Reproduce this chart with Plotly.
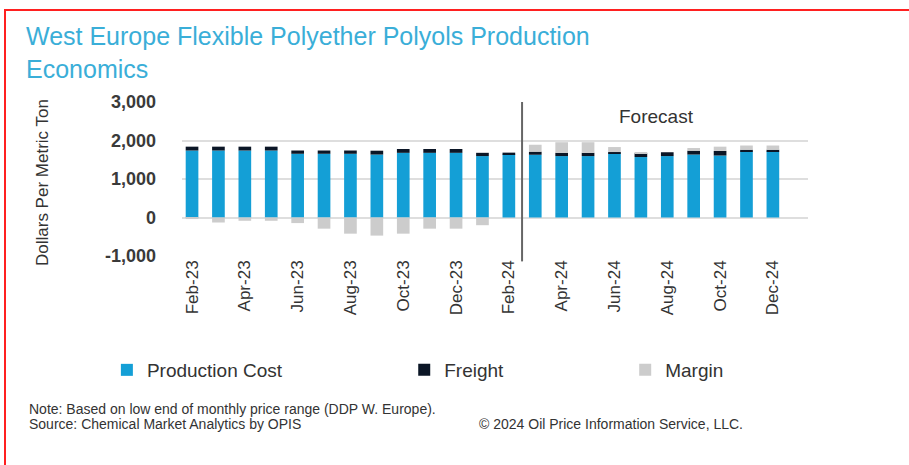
import plotly.graph_objects as go

# months on the category axis
months = ['Feb-23', 'Mar-23', 'Apr-23', 'May-23', 'Jun-23', 'Jul-23', 'Aug-23', 'Sep-23',
          'Oct-23', 'Nov-23', 'Dec-23', 'Jan-24', 'Feb-24', 'Mar-24', 'Apr-24', 'May-24',
          'Jun-24', 'Jul-24', 'Aug-24', 'Sep-24', 'Oct-24', 'Nov-24', 'Dec-24']
tick_months = months[::2]
y_ticks = [-1000, 0, 1000, 2000, 3000]
y_labels = ['-1,000', '0', '1,000', '2,000', '3,000']

# $/metric ton
production_cost = [1740, 1740, 1740, 1740, 1655, 1655, 1655, 1635, 1680, 1680, 1680, 1595,
                   1640, 1630, 1595, 1595, 1655, 1570, 1595, 1635, 1610, 1715, 1715]
freight = [100, 100, 100, 100, 85, 85, 85, 100, 100, 100, 100, 85,
           45, 80, 85, 85, 45, 100, 100, 100, 120, 45, 45]
margin = [-40, -130, -85, -85, -145, -290, -420, -470, -420, -290, -290, -200,
          0, 180, 275, 275, 130, 25, 0, 70, 110, 110, 110]

FONT = 'Liberation Sans, Arial, sans-serif'
TXT = '#333333'

# plot area in pixels: x 182..808, y 102..256
def px(x):
    return (x - 182) / 626

def py(y):
    return (256 - y) / 154


fig = go.Figure()
fig.add_trace(go.Bar(x=months, y=production_cost, name='Production Cost',
                     marker_color='#149fd6', marker_line_width=0, legend='legend'))
fig.add_trace(go.Bar(x=months, y=freight, name='Freight',
                     marker_color='#0b1626', marker_line_width=0, legend='legend2'))
fig.add_trace(go.Bar(x=months, y=margin, name='Margin',
                     marker_color='#cccccc', marker_line_width=0, legend='legend3'))

leg = dict(orientation='h', yanchor='middle', xanchor='left', y=py(370),
           font=dict(family=FONT, size=19, color=TXT), bgcolor='rgba(0,0,0,0)')

fig.update_layout(
    width=909, height=465, autosize=False,
    paper_bgcolor='white', plot_bgcolor='white',
    barmode='relative', bargap=0.52,
    margin=dict(l=182, r=101, t=102, b=209),
    font=dict(family=FONT, color=TXT),
    title=dict(text='West Europe Flexible Polyether Polyols Production<br>Economics',
               x=26 / 909, xanchor='left', xref='container',
               y=1 - 45 / 465, yanchor='top', yref='container',
               font=dict(family=FONT, size=25, color='#3aaed8')),
    legend=dict(leg, x=-0.120),
    legend2=dict(leg, x=0.355),
    legend3=dict(leg, x=0.708),
    showlegend=True,
)

fig.update_xaxes(type='category', range=[-0.38, 23.33], tickangle=-90,
                 tickmode='array', tickvals=tick_months, ticktext=tick_months,
                 tickfont=dict(size=17, color=TXT), showgrid=False, showline=False,
                 ticks='')
fig.update_yaxes(range=[-1000, 3000], tickmode='array', tickvals=y_ticks, ticktext=y_labels,
                 tickfont=dict(size=18, color='#3a3a3a', weight='bold'),
                 gridcolor='#dedede', gridwidth=1.5, zeroline=True,
                 zerolinecolor='#dedede', zerolinewidth=1.5, ticklabelstandoff=25)

# forecast divider and label
fig.add_shape(type='line', xref='x', yref='paper', x0=12.5, x1=12.5, y0=-0.035, y1=1.0,
              line=dict(color='#666666', width=2))
fig.add_annotation(x=17.6, y=2620, xref='x', yref='y', text='Forecast', showarrow=False,
                   font=dict(size=19, color=TXT))

fig.add_annotation(text='Dollars Per Metric Ton', textangle=-90, x=px(42), y=py(183),
                   xref='paper', yref='paper', xanchor='center', yanchor='middle',
                   showarrow=False, font=dict(size=17, color=TXT))

notes = [
    ('Note: Based on low end of monthly price range (DDP W. Europe).', 27, 409),
    ('Source: Chemical Market Analytics by OPIS', 27, 424),
    ('\u00a9 2024 Oil Price Information Service, LLC.', 477, 424),
]
for txt, x, y in notes:
    fig.add_annotation(text=txt, x=px(x), y=py(y),
                       xref='paper', yref='paper', xanchor='left', yanchor='middle',
                       showarrow=False, font=dict(size=14, color=TXT))

# red frame around the whole graphic
fig.add_shape(type='rect', xref='paper', yref='paper',
              x0=px(5), x1=px(915), y0=py(470), y1=py(10),
              line=dict(color='#ff2020', width=2))

fig.write_html('out.html', config={'displayModeBar': False},
               post_script="document.body.style.margin='0px';")
